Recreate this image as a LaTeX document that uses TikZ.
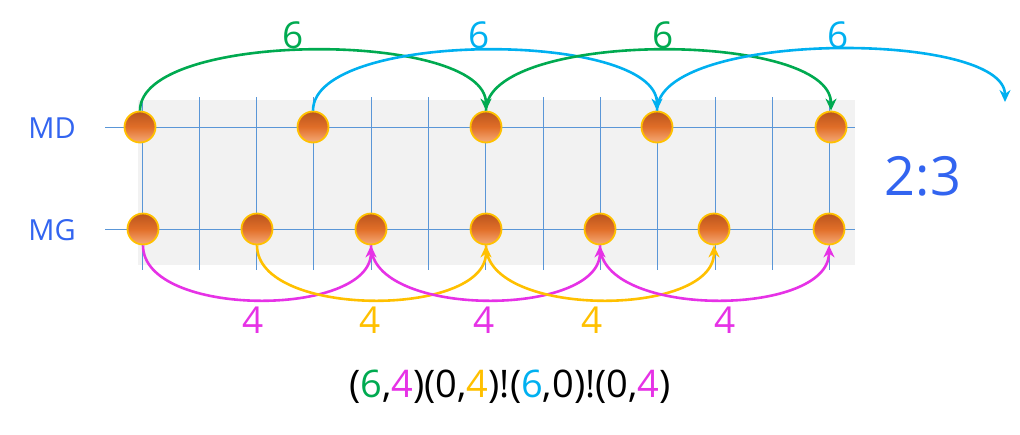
\documentclass[tikz,border=0pt]{standalone}
\usepackage{fontspec}
\setmainfont{Open Sans}
\usetikzlibrary{arrows.meta}
\definecolor{cgreen}{RGB}{0,170,80}
\definecolor{ccyan}{RGB}{0,176,240}
\definecolor{cmag}{RGB}{230,50,230}
\definecolor{cyel}{RGB}{255,192,0}
\definecolor{clab}{RGB}{50,100,240}
\definecolor{cgrid}{RGB}{90,150,215}
\definecolor{corange}{RGB}{225,110,40}
\definecolor{clight}{RGB}{245,170,120}
\definecolor{cdark}{RGB}{185,85,30}
\begin{document}
\begin{tikzpicture}[x=1pt,y=-1pt]
\tikzset{ball/.style={circle,minimum size=31pt,inner sep=0pt,draw=cyel,line width=1.8pt,top color=cdark,bottom color=clight,middle color=corange},
jump/.style={line width=2.6pt,-{Stealth[length=12pt,width=11pt]}},
num/.style={font=\fontsize{37}{37}\selectfont}}
\useasboundingbox (0,0) rectangle (1020,434);
\fill [black!5] (138,100) rectangle (855,265);
\foreach \i in {0,...,12}
  \draw [cgrid,line width=1pt] (142+57.3*\i,97) -- (142+57.3*\i,270);
\draw [cgrid,line width=1pt] (105,127) -- (855,127);
\draw [cgrid,line width=1pt] (105,229) -- (855,229);
\node [clab,font=\fontsize{29}{29}\selectfont] (md) at (52,128) {MD};
\node [clab,font=\fontsize{29}{29}\selectfont] (mg) at (52,230) {MG};
\foreach \x [count=\k] in {140,313,486,657,831}
  \node [ball] (d\k) at (\x,127) {};
\foreach \x [count=\k] in {143,257,371,486,600,714,829}
  \node [ball] (g\k) at (\x,229) {};
\coordinate (free) at (1005,102);
% top jumps
\draw [jump,cgreen] (d1.north) .. controls (140,30) and (486,30) .. (d3.north);
\draw [jump,ccyan] (d2.north) .. controls (313,30) and (657,30) .. (d4.north);
\draw [jump,cgreen] (d3.north) .. controls (486,30) and (831,30) .. (d5.north);
\draw [jump,ccyan] (d4.north) .. controls (657,30) and (1005,30) .. (free);
\node [num,cgreen] (t1) at (293,35) {6};
\node [num,ccyan] (t2) at (479,35) {6};
\node [num,cgreen] (t3) at (663,35) {6};
\node [num,ccyan] (t4) at (838,35) {6};
% bottom jumps
\draw [jump,cmag] (g1.south) .. controls (143,318) and (371,318) .. (g3.south);
\draw [jump,cyel] (g2.south) .. controls (257,318) and (486,318) .. (g4.south);
\draw [jump,cmag] (g3.south) .. controls (371,318) and (600,318) .. (g5.south);
\draw [jump,cyel] (g4.south) .. controls (486,318) and (714,318) .. (g6.south);
\draw [jump,cmag] (g5.south) .. controls (600,318) and (829,318) .. (g7.south);
\node [num,cmag] (b1) at (253,320) {4};
\node [num,cyel] (b2) at (370,320) {4};
\node [num,cmag] (b3) at (484,320) {4};
\node [num,cyel] (b4) at (592,320) {4};
\node [num,cmag] (b5) at (725,320) {4};
\node [clab,font=\fontsize{54}{54}\selectfont] (ratio) at (923,176) {2:3};
\node [font=\fontsize{38}{38}\selectfont] (code) at (510,387) {(\textcolor{cgreen}{6},\textcolor{cmag}{4})(0,\textcolor{cyel}{4})!(\textcolor{ccyan}{6},0)!(0,\textcolor{cmag}{4})};
\end{tikzpicture}
\end{document}
